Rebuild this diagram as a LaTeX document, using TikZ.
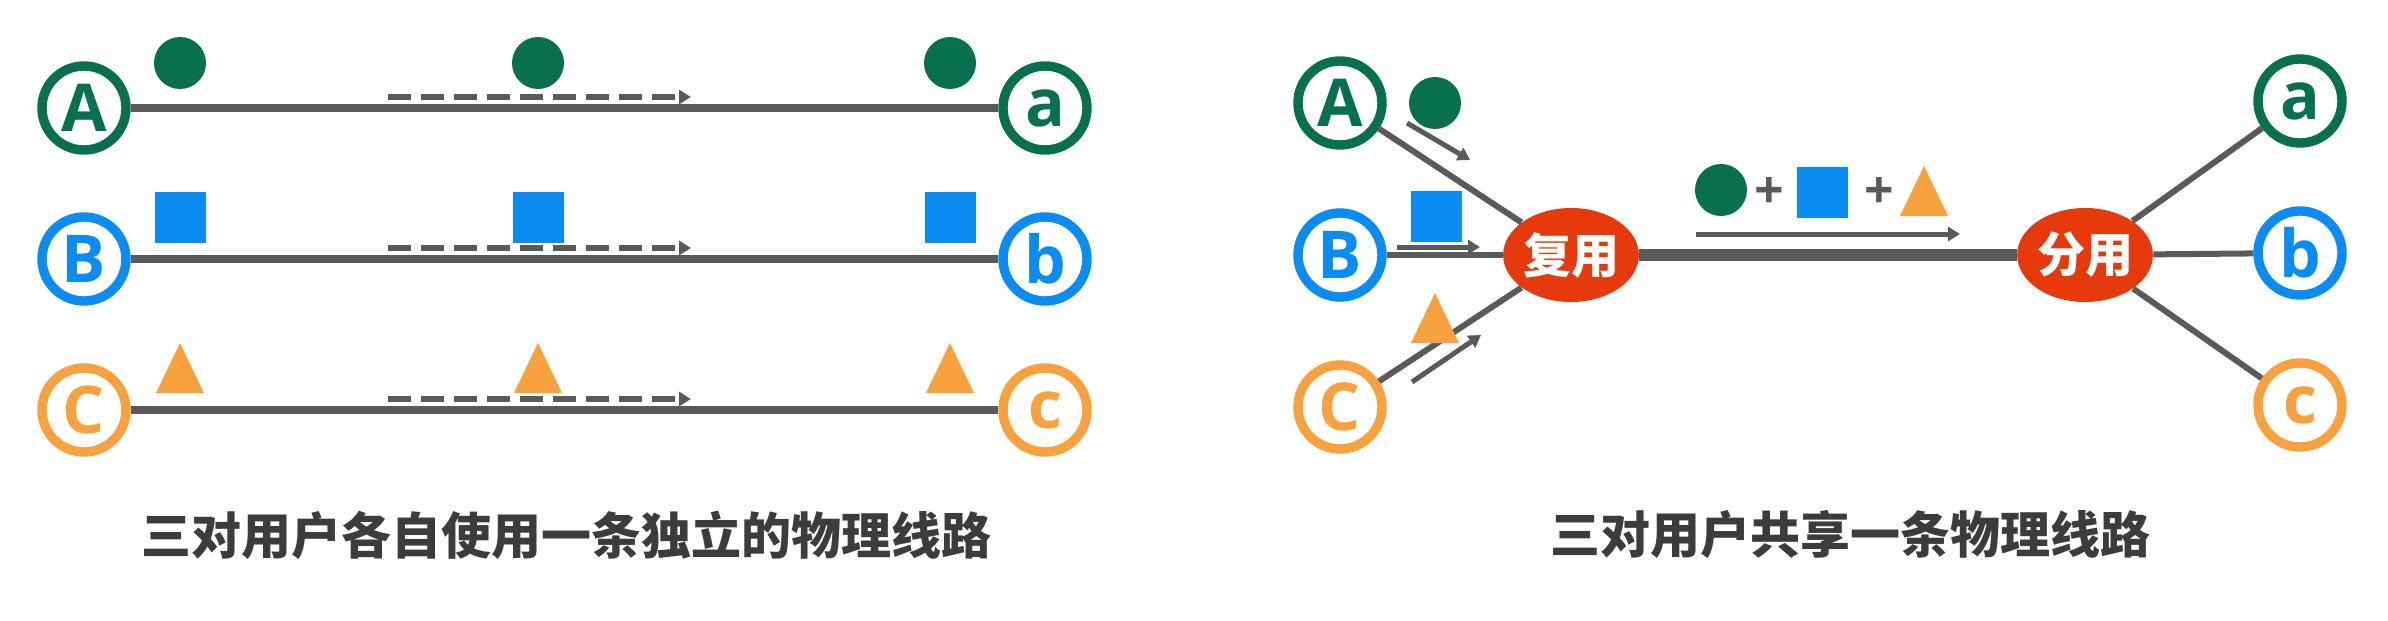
\documentclass[tikz,border=0pt]{standalone}
\usepackage{fontspec}
\newfontfamily\cjk{Noto Sans CJK SC}
\newfontfamily\lat{Open Sans}
\usetikzlibrary{arrows.meta,shapes.geometric}
\definecolor{grn}{HTML}{08704F}
\definecolor{blu}{HTML}{0A8CF2}
\definecolor{org}{HTML}{F7A23E}
\definecolor{hubred}{HTML}{E63A0C}
\definecolor{wire}{HTML}{5A5A5A}
\definecolor{txt}{HTML}{3C3C3C}

\begin{document}
\begin{tikzpicture}[
  x=0.5pt, y=-0.5pt,
  user/.style={circle,draw=#1,line width=4.7pt,minimum size=42pt,inner sep=0pt,
    text=#1,font=\lat\bfseries\fontsize{33}{33}\selectfont},
  hub/.style={ellipse,fill=hubred,minimum width=67pt,minimum height=47pt,inner sep=0pt,
    text=white,font=\cjk\bfseries\fontsize{24}{24}\selectfont},
  link/.style={draw=wire,line width=4pt},
  thin link/.style={draw=wire,line width=3pt},
  trunk/.style={draw=wire,line width=6pt},
  flow/.style={draw=wire,line width=2.5pt,-{Triangle[length=6pt,width=7pt]}},
  dashflow/.style={flow,line width=3pt,dash pattern=on 11.5pt off 5pt},
  dot/.style={circle,fill=grn,minimum size=26pt,inner sep=0pt},
  sq/.style={rectangle,fill=blu,minimum size=25.5pt,inner sep=0pt},
  tri/.pic={\fill[org] (-24,25) -- (0,-25) -- (24,25) -- cycle;},
  plus/.style={text=wire,inner sep=0pt,font=\lat\bfseries\fontsize{26}{26}\selectfont},
  caption/.style={text=txt,inner sep=0pt,font=\cjk\bfseries\fontsize{25}{25}\selectfont}
]
\useasboundingbox[fill=white] (0,0) rectangle (2388,621);

% each pair on its own line
\foreach \u/\v/\c/\y in {A/a/grn/108,B/b/blu/259,C/c/org/410}{
  \node[user=\c] (\u1) at (84,\y) {\u};
  \node[user=\c] (\v1) at (1045,\y) {\v};
  \draw[link] (\u1) -- (\v1);
  \coordinate (f\u) at (388,\y-11);
  \coordinate (t\u) at (691,\y-11);
  \draw[dashflow] (f\u) -- (t\u);
}
\foreach \x in {180,538,950}{
  \node[dot] (dot\x) at (\x,63) {};
  \node[sq] (sq\x) at (\x,217) {};
  \pic (tri\x) at (\x,368) {tri};
}

% shared line
\node[user=grn] (A2) at (1340,103) {A};
\node[user=blu] (B2) at (1340,255) {B};
\node[user=org] (C2) at (1340,407) {C};
\node[hub] (mux) at (1571,255) {复用};
\node[hub] (demux) at (2085,255) {分用};
\node[user=grn] (a2) at (2300,101) {a};
\node[user=blu] (b2) at (2300,253) {b};
\node[user=org] (c2) at (2300,405) {c};

\draw[trunk] (mux) -- (demux);
\foreach \u in {A2,B2,C2} \draw[thin link] (\u) -- (mux);
\foreach \v in {a2,b2,c2} \draw[thin link] (demux) -- (\v);

\coordinate (fa) at (1407,123); \coordinate (ta) at (1470,160);
\coordinate (fb) at (1397,247); \coordinate (tb) at (1480,247);
\coordinate (fc) at (1412,382); \coordinate (tc) at (1481,335);
\coordinate (fm) at (1696,234); \coordinate (tm) at (1960,234);
\foreach \s in {a,b,c,m} \draw[flow] (f\s) -- (t\s);

\node[dot] (dotA) at (1435,103) {};
\node[sq] (sqB) at (1436,216) {};
\pic (triC) at (1435,318) {tri};

\node[dot] (dotM) at (1721,190) {};
\node[plus] (plus1) at (1769,193) {+};
\node[sq] (sqM) at (1822,192) {};
\node[plus] (plus2) at (1879,193) {+};
\pic (triM) at (1924,191) {tri};

\node[caption] (cap1) at (566,535) {三对用户各自使用一条独立的物理线路};
\node[caption] (cap2) at (1850,535) {三对用户共享一条物理线路};
\end{tikzpicture}
\end{document}
